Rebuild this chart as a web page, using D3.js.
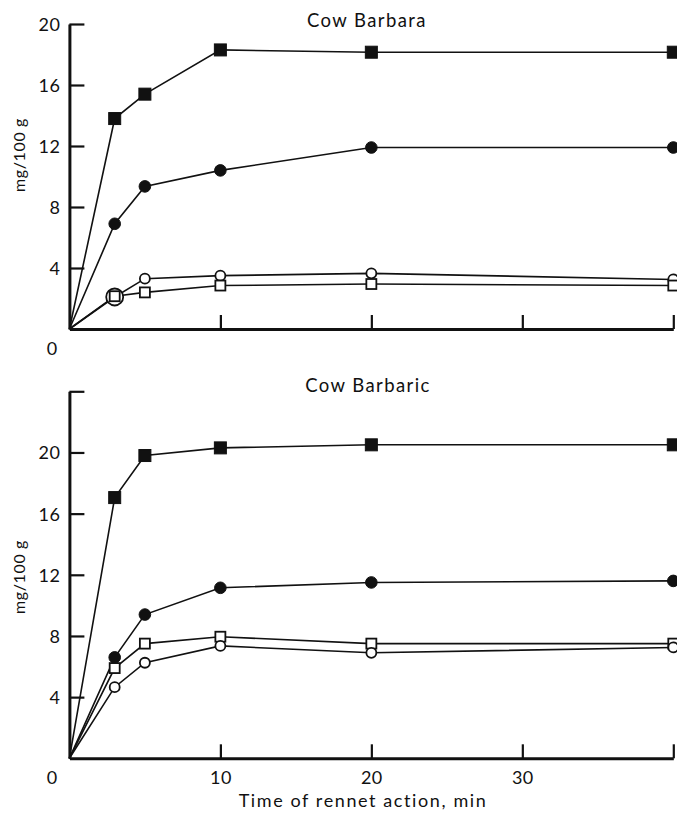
<!DOCTYPE html>
<html>
<head>
<meta charset="utf-8">
<script src="https://cdn.jsdelivr.net/npm/d3@7"></script>
<style>
  html, body { margin: 0; padding: 0; background: #fff; }
  svg { display: block; }
  text { font-family: Lato, "Open Sans", sans-serif; fill: #111; }
</style>
</head>
<body>
<script>
// Rennet action time (min)
const times = [0, 3, 5, 10, 20, 40];

// Cow Barbara, mg/100 g
const barbaraFilledSquare = [0, 13.8, 15.4, 18.3, 18.15, 18.15];
const barbaraFilledCircle = [0, 6.9, 9.35, 10.4, 11.9, 11.9];
const barbaraOpenCircle   = [0, 2.1, 3.3, 3.5, 3.65, 3.25];
const barbaraOpenSquare   = [0, 2.15, 2.4, 2.85, 2.95, 2.85];

// Cow Barbaric, mg/100 g
const barbaricFilledSquare = [0, 17.05, 19.8, 20.3, 20.5, 20.5];
const barbaricFilledCircle = [0, 6.6, 9.4, 11.15, 11.5, 11.6];
const barbaricOpenSquare   = [0, 5.9, 7.5, 7.95, 7.5, 7.5];
const barbaricOpenCircle   = [0, 4.65, 6.25, 7.35, 6.9, 7.25];

// Tick values
const xTicks = [10, 20, 30, 40];
const xTickLabels = ["10", "20", "30", ""];
const yTicksTop = [4, 8, 12, 16, 20];
const yTicksBottom = [4, 8, 12, 16, 20, 24];
const yTickLabelsBottom = ["4", "8", "12", "16", "20", ""];

const W = 677, H = 813;
const svg = d3.select("body").append("svg").attr("width", W).attr("height", H);

const x = d3.scaleLinear().domain([0, 40]).range([69.4, 673.3]);

function panel(opts) {
  const y = d3.scaleLinear().domain(opts.yDomain).range(opts.yRange);
  const g = svg.append("g");

  // axes
  const yAxis = d3.axisLeft(y).tickValues(opts.yTicks).tickSizeInner(-15).tickSizeOuter(0)
    .tickPadding(9).tickFormat((d, i) => opts.yLabels ? opts.yLabels[i] : d3.format("d")(d));
  const ya = g.append("g").attr("transform", `translate(${x(0)},0)`).call(yAxis);
  const xAxis = d3.axisBottom(x).tickValues(xTicks).tickSizeInner(-14).tickSizeOuter(0)
    .tickPadding(10).tickFormat((d, i) => opts.xLabels ? opts.xLabels[i] : "");
  const xa = g.append("g").attr("transform", `translate(0,${y(0)})`).call(xAxis);
  [ya, xa].forEach(a => {
    a.select(".domain").attr("stroke", "#111").attr("stroke-width", 3);
    a.selectAll(".tick line").attr("stroke", "#111").attr("stroke-width", 2.2);
    a.selectAll(".tick text").style("font-family", "Lato, sans-serif").style("font-size", "18px")
      .style("letter-spacing", "0.5px").attr("fill", "#111");
  });
  ya.selectAll(".tick text").attr("dy", "0.36em");
  xa.selectAll(".tick text").attr("dy", "0.85em");

  // origin label
  g.append("text").attr("x", 52).attr("y", y(0) + 26).attr("text-anchor", "middle")
    .style("font-size", "18px").text("0");

  // y axis title
  g.append("text")
    .attr("transform", `translate(25,${opts.yTitleCenter}) rotate(-90)`)
    .attr("text-anchor", "middle").style("font-size", "16px").style("letter-spacing", "0.6px")
    .text("mg/100 g");

  // panel title
  g.append("text").attr("x", opts.titleX).attr("y", opts.titleY).attr("text-anchor", "middle")
    .style("font-size", "18.5px").style("letter-spacing", "1.4px").text(opts.title);

  const line = d3.line().x((d, i) => x(times[i])).y(d => y(d));

  opts.series.forEach(s => {
    g.append("path").datum(s.values).attr("d", line)
      .attr("fill", "none").attr("stroke", "#111").attr("stroke-width", 1.6);
  });

  opts.series.forEach(s => {
    const pts = s.values.map((v, i) => ({ t: times[i], v, i })).filter(p => p.t > 0);
    const sel = g.append("g").selectAll("g").data(pts).join("g")
      .attr("transform", p => `translate(${x(p.t)},${y(p.v)})`);
    if (s.shape === "square") {
      const side = s.filled ? 12 : 10;
      sel.append("rect").attr("x", -side / 2).attr("y", -side / 2)
        .attr("width", side).attr("height", side)
        .attr("fill", s.filled ? "#111" : "#fff")
        .attr("stroke", "#111").attr("stroke-width", s.filled ? 1 : 1.8);
    } else {
      // an open circle that coincides with an open square is drawn enlarged round it
      const other = s.partner;
      sel.append("circle")
        .attr("r", p => (!s.filled && other && Math.abs(other[p.i] - p.v) < 0.2) ? 8.5 : (s.filled ? 5.8 : 5))
        .attr("fill", s.filled ? "#111" : "#fff")
        .attr("stroke", "#111").attr("stroke-width", s.filled ? 1 : 1.8);
    }
  });
  return g;
}

// Cow Barbara: the enlarged open circles go down before the open squares
panel({
  title: "Cow Barbara", titleX: 367, titleY: 27,
  yDomain: [0, 20], yRange: [329, 24],
  yTicks: yTicksTop, yLabels: null, xLabels: null,
  yTitleCenter: 155,
  series: [
    { values: barbaraFilledSquare, shape: "square", filled: true },
    { values: barbaraFilledCircle, shape: "circle", filled: true },
    { values: barbaraOpenCircle, shape: "circle", filled: false, partner: barbaraOpenSquare },
    { values: barbaraOpenSquare, shape: "square", filled: false }
  ]
});

panel({
  title: "Cow Barbaric", titleX: 368, titleY: 392,
  yDomain: [0, 24], yRange: [758.3, 391.3],
  yTicks: yTicksBottom, yLabels: yTickLabelsBottom, xLabels: xTickLabels,
  yTitleCenter: 577,
  series: [
    { values: barbaricFilledSquare, shape: "square", filled: true },
    { values: barbaricFilledCircle, shape: "circle", filled: true },
    { values: barbaricOpenSquare, shape: "square", filled: false },
    { values: barbaricOpenCircle, shape: "circle", filled: false }
  ]
});

// x axis title
svg.append("text").attr("x", 363).attr("y", 807).attr("text-anchor", "middle")
  .style("font-size", "18px").style("letter-spacing", "1.6px").text("Time of rennet action, min");
</script>
</body>
</html>
